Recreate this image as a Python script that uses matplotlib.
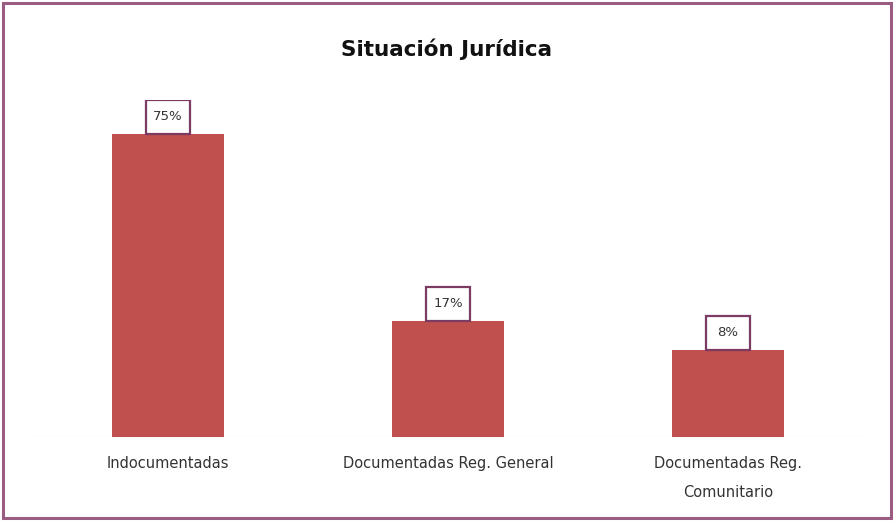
import matplotlib
matplotlib.use("Agg")
import matplotlib.pyplot as plt
from matplotlib.patches import Rectangle

categories = ["Indocumentadas", "Documentadas Reg. General", "Documentadas Reg.\nComunitario"]
values = [75, 17, 8]
labels = ["75%", "17%", "8%"]

plt.rcParams['font.family'] = ['DejaVu Sans']

fig = plt.figure(figsize=(8.94, 5.21), dpi=100)
ax = fig.add_axes([28/894, 1 - 437/521, 840/894, 337/521])

ymin = -19
x = list(range(len(categories)))
ax.bar(x, [v - ymin for v in values], bottom=ymin, width=0.4, color="#C0504D", zorder=2)
ax.set_xlim(-0.5, 2.5)
ax.set_ylim(ymin, ymin + 337/3.224)
ax.axhline(ymin, color="#eeeeee", lw=1, zorder=1)

for xi, v, s in zip(x, values, labels):
    ax.text(xi, v + 5.3, s, ha="center", va="center", fontsize=9.5, color="#333333", zorder=4)
    ax.add_patch(Rectangle((xi - 0.079, v), 0.158, 10.5, facecolor="white",
                           edgecolor="#7B3B62", lw=1.6, zorder=3))

for s in ax.spines.values():
    s.set_visible(False)
ax.set_yticks([])
ax.set_xticks(x)
ax.set_xticklabels(categories, fontsize=10.5, color="#333333", linespacing=2.1)
ax.tick_params(axis="x", length=0, pad=14)

fig.text(0.5, 1 - 49/521, "Situación Jurídica", ha="center", va="center",
         fontsize=15.5, fontweight="bold", color="#111111")

fig.patches.append(Rectangle((3/894, 3/521), 888/894, 515/521, transform=fig.transFigure,
                             fill=False, edgecolor="#9A5C80", lw=2.2))

fig.savefig("out.png", dpi=100)
